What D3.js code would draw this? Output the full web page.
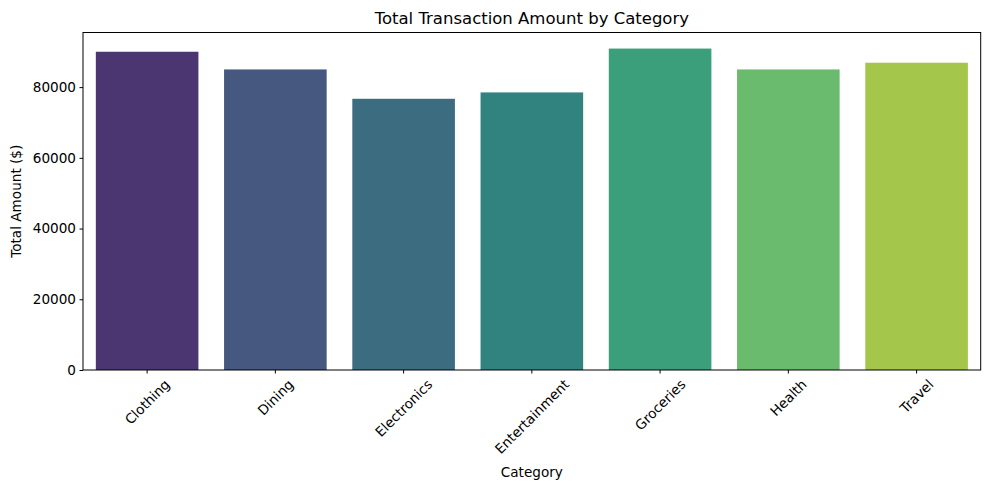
<!DOCTYPE html>
<meta charset="utf-8">
<style>
body { margin: 0; background: #fff; }
text { font-family: "DejaVu Sans", sans-serif; fill: #000; }
</style>
<body>
<script src="https://d3js.org/d3.v7.min.js"></script>
<script>

// values
const categories = ["Clothing", "Dining", "Electronics", "Entertainment", "Groceries", "Health", "Travel"];
const totals = [90000, 85000, 76700, 78500, 90900, 85000, 86900];
const barColors = ["#4b3671", "#46587f", "#3c6c80", "#31837f", "#3c9f7b", "#6bbb6e", "#a3c64b"];
const yTicks = [0, 20000, 40000, 60000, 80000];

const width = 989, height = 490;
const margin = {top: 32.5, right: 8.3, bottom: 120, left: 83};
const fs = 13.6;

let svg = d3.select("body").append("svg")
    .attr("width", width)
    .attr("height", height);

let x = d3.scaleBand()
    .domain(categories)
    .range([margin.left, width - margin.right])
    .paddingInner(0.2)
    .paddingOuter(0.1);

let y = d3.scaleLinear()
    .domain([0, d3.max(totals) * 1.05])
    .range([370, margin.top]);

// bars
svg.append("g").selectAll("rect")
    .data(categories)
    .enter().append("rect")
    .attr("x", d => x(d))
    .attr("width", x.bandwidth())
    .attr("y", (d, i) => y(totals[i]))
    .attr("height", (d, i) => y(0) - y(totals[i]))
    .attr("fill", (d, i) => barColors[i]);

// y axis
let yAxis = svg.append("g")
    .attr("transform", "translate(" + margin.left + ",0)")
    .call(d3.axisLeft(y).tickValues(yTicks).tickSize(3.5).tickPadding(3.5).tickFormat(d3.format("d")));
yAxis.select(".domain").remove();
yAxis.selectAll("text").style("font-size", fs + "px").attr("font-family", null);

// x axis
let xAxis = svg.append("g")
    .attr("transform", "translate(0," + y(0) + ")")
    .call(d3.axisBottom(x).tickSize(3.5).tickFormat(""));
xAxis.select(".domain").remove();

// rotated tick labels, bbox centred under the tick like matplotlib
svg.append("g").selectAll("text")
    .data(categories)
    .enter().append("text")
    .style("font-size", fs + "px")
    .attr("text-anchor", "middle")
    .attr("dominant-baseline", "central")
    .text(d => d)
    .attr("transform", function(d) {
      let w = this.getComputedTextLength(), h = fs;
      let half = (w + h) / (2 * Math.SQRT2);
      let cx = x(d) + x.bandwidth() / 2;
      let cy = y(0) + 7 + half;
      return "translate(" + cx + "," + cy + ")rotate(-45)";
    });

// frame
svg.append("rect")
    .attr("x", margin.left)
    .attr("y", margin.top)
    .attr("width", width - margin.right - margin.left)
    .attr("height", y(0) - margin.top)
    .attr("fill", "none")
    .attr("stroke", "#000")
    .attr("stroke-width", 1);

// titles
svg.append("text")
    .attr("x", (margin.left + width - margin.right) / 2)
    .attr("y", 24)
    .attr("text-anchor", "middle")
    .style("font-size", "16.5px")
    .text("Total Transaction Amount by Category");

svg.append("text")
    .attr("x", (margin.left + width - margin.right) / 2)
    .attr("y", 477)
    .attr("text-anchor", "middle")
    .style("font-size", fs + "px")
    .text("Category");

svg.append("text")
    .attr("transform", "translate(21," + ((margin.top + 370) / 2) + ")rotate(-90)")
    .attr("text-anchor", "middle")
    .style("font-size", fs + "px")
    .text("Total Amount ($)");

</script>
</body>
